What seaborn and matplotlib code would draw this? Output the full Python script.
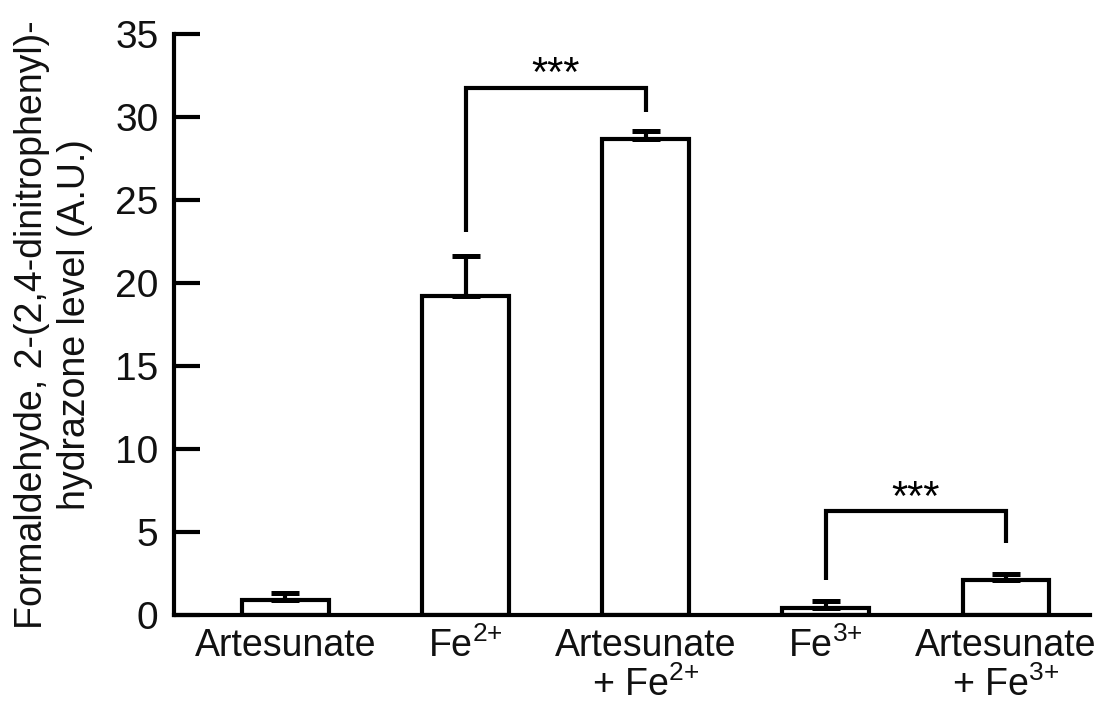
import matplotlib
matplotlib.use("Agg")
import matplotlib.pyplot as plt
import seaborn as sns
import pandas as pd
import numpy as np

categories = ["Artesunate", "Fe$^{2{+}}$", "Artesunate\n+ Fe$^{2{+}}$", "Fe$^{3{+}}$", "Artesunate\n+ Fe$^{3{+}}$"]
values = [0.9, 19.2, 28.7, 0.42, 2.1]
errors = [0.45, 2.45, 0.45, 0.42, 0.4]
yticks = [0, 5, 10, 15, 20, 25, 30, 35]
ylabel = "Formaldehyde, 2-(2,4-dinitrophenyl)-\nhydrazone level (A.U.)"
# significance brackets: (left idx, right idx, left foot, right foot, top, label)
brackets = [(1, 2, 23.1, 30.3, 31.75, "***"), (3, 4, 2.1, 4.35, 6.27, "***")]

sns.set_theme(style="white")
plt.rcParams['font.family'] = ['Liberation Sans', 'DejaVu Sans']
plt.rcParams['mathtext.fontset'] = 'custom'
plt.rcParams['mathtext.rm'] = 'Liberation Sans'
plt.rcParams['mathtext.it'] = 'Liberation Sans'
plt.rcParams['mathtext.bf'] = 'Liberation Sans:bold'

df = pd.DataFrame({"cat": categories, "val": values})

fig = plt.figure(figsize=(11.07, 7.07), dpi=100)
ax = fig.add_axes([0.157, 0.130, 0.828, 0.822])

sns.barplot(data=df, x="cat", y="val", ax=ax, color="white", edgecolor="black",
            linewidth=3.0, width=0.48, errorbar=None, saturation=1)

x = np.arange(len(categories))
ax.errorbar(x, values, yerr=[np.zeros(len(errors)), errors], fmt="none",
            ecolor="black", elinewidth=3.0, capsize=10, capthick=3.6, zorder=1)

lw = 3.0
for l, r, fl, fr, top, lab in brackets:
    ax.plot([x[l], x[l], x[r], x[r]], [fl, top, top, fr], color="black", lw=lw,
            solid_capstyle="butt", solid_joinstyle="miter", clip_on=False)
    ax.text((x[l] + x[r]) / 2, top + 0.75, lab, ha="center", va="center",
            fontsize=30, color="black")

ax.set_xlim(-0.62, 4.47)
ax.set_ylim(0, 35)
ax.set_yticks(yticks)
ax.set_yticklabels([str(t) for t in yticks])
ax.set_xlabel("")
ax.set_ylabel(ylabel, fontsize=27, color="#111111", labelpad=16, linespacing=1.25)

for s in ["top", "right"]:
    ax.spines[s].set_visible(False)
for s in ["left", "bottom"]:
    ax.spines[s].set_color("black")
    ax.spines[s].set_linewidth(3.0)

ax.tick_params(axis="y", direction="in", length=19, width=3.0, color="black",
               labelsize=28, pad=11, labelcolor="#111111", left=True)
ax.tick_params(axis="x", length=0, labelsize=27, pad=9, labelcolor="#111111")
for t in ax.get_xticklabels():
    t.set_linespacing(1.08)
    t.set_va("top")

fig.savefig("out.png", dpi=100, facecolor="white")
